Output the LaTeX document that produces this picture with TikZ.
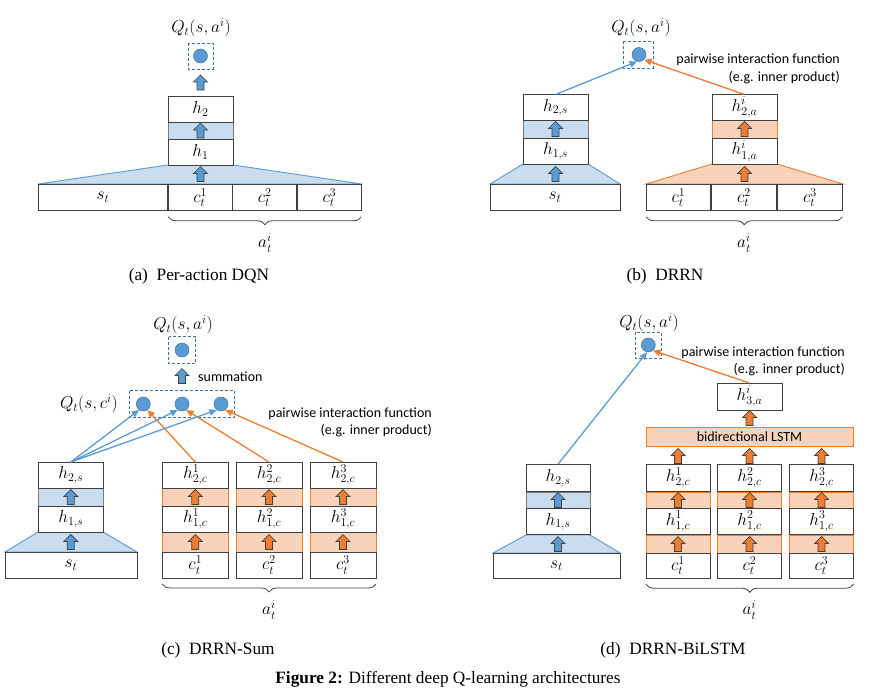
\documentclass[tikz,border=0pt]{standalone}
\usepackage{fontspec}
\setmainfont{Liberation Serif}
\newfontfamily\calfont{Carlito}
\usetikzlibrary{arrows.meta, decorations.pathreplacing}

\definecolor{qblue}{HTML}{5B9BD5}
\definecolor{qblueline}{HTML}{41719C}
\definecolor{lblue}{HTML}{C9DCF0}
\definecolor{qorange}{HTML}{ED7D31}
\definecolor{lorange}{HTML}{F8D3BA}
\definecolor{boxgray}{HTML}{404040}

\tikzset{
  cell/.style={draw=boxgray, line width=0.9pt, fill=white, inner sep=0pt, outer sep=0pt,
    minimum height=26pt, font=\fontsize{17}{20}\selectfont},
  mlabel/.style={inner sep=1pt, font=\fontsize{17}{20}\selectfont},
  note/.style={inner sep=1pt, font=\calfont\fontsize{14}{17}\selectfont},
  capt/.style={inner sep=1pt, font=\fontsize{17.3}{21}\selectfont},
  qboxline/.style={draw=qblueline, dashed, dash pattern=on 3pt off 2pt, line width=0.7pt},
  qdot/.style={circle, fill=qblue, draw=qblueline, line width=0.5pt, minimum size=14pt, inner sep=0pt},
  bandb/.style={fill=lblue, draw=boxgray!70, line width=0.7pt},
  bando/.style={fill=lorange, draw=qorange, line width=0.7pt},
  trapb/.style={fill=lblue, draw=qblue, line width=0.9pt},
  trapo/.style={fill=lorange, draw=qorange, line width=0.9pt},
  barr/.style={fill=qblue, draw=boxgray, line width=0.7pt},
  oarr/.style={fill=qorange, draw=boxgray, line width=0.7pt},
  bline/.style={draw=qblue, line width=1.3pt, -{Triangle[length=7.5pt,width=6.5pt]}},
  oline/.style={draw=qorange, line width=1.3pt, -{Triangle[length=7.5pt,width=6.5pt]}},
  brc/.style={draw=boxgray, line width=0.8pt, decorate,
    decoration={brace, mirror, amplitude=8pt}},
  uparr/.pic={
    \draw[pic actions] (0,-7.5) -- (7,-0.5) -- (3.5,-0.5) -- (3.5,7.5)
      -- (-3.5,7.5) -- (-3.5,-0.5) -- (-7,-0.5) -- cycle;
  }
}

\begin{document}
\begin{tikzpicture}[x=1pt, y=-1pt]
  \useasboundingbox (0,0) rectangle (873,695);

  % (a) Per-action DQN
  \filldraw[trapb] (168,165) -- (233,165) -- (362,184) -- (38,184) -- cycle;
  \filldraw[bandb] (168,122) rectangle (233,139);
  \node[cell, minimum width=65pt] (a-h2) at (200.5,109) {$h_2$};
  \node[cell, minimum width=65pt] (a-h1) at (200.5,152) {$h_1$};
  \node[cell, minimum width=129pt, minimum height=26.5pt] (a-s) at (103,197.5) {$s_t$};
  \foreach \n/\cx in {1/200.2, 2/264.7, 3/329.5}
    \node[cell, minimum width=63.8pt, minimum height=26.5pt] (a-c\n) at (\cx,197.5) {$c_t^{\n}$};
  \pic[barr] at (200.5,130.5) {uparr};
  \pic[barr] at (200.5,174) {uparr};
  \pic[barr] at (200.5,82.5) {uparr};
  \node[qdot] (a-qc) at (200.5,56) {};
  \draw[qboxline] ([shift={(-12.5,-13)}]a-qc.center) rectangle ([shift={(12.5,13)}]a-qc.center);
  \node[mlabel] (a-ql) at (201,28) {$Q_t(s,a^i)$};
  \draw[brc] ([yshift=-6pt]a-c1.south west) -- ([yshift=-6pt]a-c3.south east);
  \node[mlabel] (a-a) at (265,243) {$a_t^i$};
  \node[capt] (a-cap) at (199,276) {(a)\enspace Per-action DQN};

  % (b) DRRN
  \filldraw[trapb] (523,164) -- (588,164) -- (620,184) -- (490,184) -- cycle;
  \filldraw[trapo] (712,164) -- (777,164) -- (843,184) -- (646,184) -- cycle;
  \filldraw[bandb] (523,120) rectangle (588,138);
  \filldraw[bando] (712,120) rectangle (777,138);
  \node[cell, minimum width=65pt] (b-h2s) at (555.5,107.5) {$h_{2,s}$};
  \node[cell, minimum width=65pt] (b-h1s) at (555.5,151) {$h_{1,s}$};
  \node[cell, minimum width=130pt, minimum height=26.5pt] (b-s) at (555,197.5) {$s_t$};
  \node[cell, minimum width=65pt] (b-h2a) at (744.5,107.5) {$h^i_{2,a}$};
  \node[cell, minimum width=65pt] (b-h1a) at (744.5,151) {$h^i_{1,a}$};
  \foreach \n/\cx in {1/678.5, 2/744, 3/810}
    \node[cell, minimum width=64.8pt, minimum height=26.5pt] (b-c\n) at (\cx,197.5) {$c_t^{\n}$};
  \pic[barr] at (555.5,129) {uparr};
  \pic[barr] at (555.5,174) {uparr};
  \pic[oarr] at (744.5,129) {uparr};
  \pic[oarr] at (744.5,174) {uparr};
  \node[qdot] (b-qc) at (639,54.5) {};
  \draw[qboxline] ([shift={(-16,-13)}]b-qc.center) rectangle ([shift={(14,13.5)}]b-qc.center);
  \node[mlabel] (b-ql) at (641,28) {$Q_t(s,a^i)$};
  \draw[bline] (b-h2s.north) -- (b-qc.-105);
  \draw[oline] (b-h2a.north) -- (b-qc.-45);
  \node[note, anchor=east] (b-n1) at (841,60) {pairwise interaction function};
  \node[note, anchor=east] (b-n2) at (841,78) {(e.g. inner product)};
  \draw[brc] ([yshift=-6pt]b-c1.south west) -- ([yshift=-6pt]b-c3.south east);
  \node[mlabel] (b-a) at (744,243) {$a_t^i$};
  \node[capt] (b-cap) at (665,276) {(b)\enspace DRRN};

  % (c) DRRN-Sum
  \filldraw[trapb] (38,532) -- (103,532) -- (137,552) -- (5,552) -- cycle;
  \filldraw[bandb] (38,488) rectangle (103,506);
  \node[cell, minimum width=65pt] (c-h2s) at (70.8,475) {$h_{2,s}$};
  \node[cell, minimum width=65pt] (c-h1s) at (70.8,519) {$h_{1,s}$};
  \node[cell, minimum width=132pt] (c-s) at (71,565) {$s_t$};
  \pic[barr] at (70.8,497) {uparr};
  \pic[barr] at (70.8,542) {uparr};
  \foreach \n/\cx in {1/195.3, 2/269, 3/343} {
    \filldraw[bando] ({\cx-33},488) rectangle ({\cx+33},506);
    \filldraw[bando] ({\cx-33},532) rectangle ({\cx+33},552);
    \node[cell, minimum width=66pt] (c-h2\n) at (\cx,475) {$h^{\n}_{2,c}$};
    \node[cell, minimum width=66pt] (c-h1\n) at (\cx,519) {$h^{\n}_{1,c}$};
    \node[cell, minimum width=66pt] (c-c\n) at (\cx,565) {$c_t^{\n}$};
    \pic[oarr] at (\cx,497) {uparr};
    \pic[oarr] at (\cx,542) {uparr};
  }
  \foreach \n/\cx in {1/143.3, 2/182, 3/221}
    \node[qdot] (c-q\n) at (\cx,404) {};
  \draw[qboxline] ([shift={(-14,-13.3)}]c-q1.center) rectangle ([shift={(13.3,13.3)}]c-q3.center);
  \node[mlabel, anchor=east] (c-qsl) at (119,404) {$Q_t(s,c^i)$};
  \pic[barr] at (182,376) {uparr};
  \node[note, anchor=west] (c-sum) at (197,377) {summation};
  \node[qdot] (c-qc) at (182,350) {};
  \draw[qboxline] ([shift={(-13.5,-13.3)}]c-qc.center) rectangle ([shift={(13.5,13.3)}]c-qc.center);
  \node[mlabel] (c-ql) at (183,325) {$Q_t(s,a^i)$};
  \foreach \n in {1,2,3} {
    \draw[bline] (c-h2s.north) -- (c-q\n.-125);
    \draw[oline] (c-h2\n.north) -- (c-q\n.-55);
  }
  \node[note, anchor=east] (c-n1) at (433,414) {pairwise interaction function};
  \node[note, anchor=east] (c-n2) at (433,431) {(e.g. inner product)};
  \draw[brc] ([yshift=-6pt]c-c1.south west) -- ([yshift=-6pt]c-c3.south east);
  \node[mlabel] (c-a) at (269,610) {$a_t^i$};
  \node[capt] (c-cap) at (218,650) {(c)\enspace DRRN-Sum};

  % (d) DRRN-BiLSTM
  \filldraw[trapb] (526,535) -- (590,535) -- (620,553) -- (493,553) -- cycle;
  \filldraw[bandb] (526,492) rectangle (590,508);
  \node[cell, minimum width=64pt, minimum height=27.5pt] (d-h2s) at (558,478) {$h_{2,s}$};
  \node[cell, minimum width=64pt, minimum height=26.7pt] (d-h1s) at (558,521.5) {$h_{1,s}$};
  \node[cell, minimum width=127pt, minimum height=25pt] (d-s) at (556.5,565.7) {$s_t$};
  \pic[barr] at (558,500) {uparr};
  \pic[barr] at (558,544) {uparr};
  \foreach \n/\cx in {1/678, 2/749.5, 3/821.5} {
    \filldraw[bando] ({\cx-32},492) rectangle ({\cx+32},508);
    \filldraw[bando] ({\cx-32},535) rectangle ({\cx+32},553);
    \node[cell, minimum width=64pt, minimum height=27.5pt] (d-h2\n) at (\cx,478) {$h^{\n}_{2,c}$};
    \node[cell, minimum width=64pt, minimum height=26.7pt] (d-h1\n) at (\cx,521.5) {$h^{\n}_{1,c}$};
    \node[cell, minimum width=64pt, minimum height=25pt] (d-c\n) at (\cx,565.7) {$c_t^{\n}$};
    \pic[oarr] at (\cx,500) {uparr};
    \pic[oarr] at (\cx,544) {uparr};
    \pic[oarr] at (\cx,456) {uparr};
  }
  \node[draw=qorange, fill=lorange, line width=0.9pt, minimum width=207pt, minimum height=19.5pt,
    inner sep=0pt, note] (d-lstm) at (749.5,437) {bidirectional LSTM};
  \pic[oarr] at (749.5,418) {uparr};
  \node[cell, minimum width=65pt, minimum height=27pt] (d-h3a) at (749.5,396.5) {$h^i_{3,a}$};
  \node[qdot] (d-qc) at (648.3,345) {};
  \draw[qboxline] ([shift={(-13.3,-13)}]d-qc.center) rectangle ([shift={(13.4,13)}]d-qc.center);
  \node[mlabel] (d-ql) at (649,323) {$Q_t(s,a^i)$};
  \draw[bline] (d-h2s.north) -- (d-qc.-100);
  \draw[oline] (d-h3a.north) -- (d-qc.-50);
  \node[note, anchor=east] (d-n1) at (846,353) {pairwise interaction function};
  \node[note, anchor=east] (d-n2) at (846,370) {(e.g. inner product)};
  \draw[brc] ([yshift=-6pt]d-c1.south west) -- ([yshift=-6pt]d-c3.south east);
  \node[mlabel] (d-a) at (749.5,610) {$a_t^i$};
  \node[capt] (d-cap) at (673,650) {(d)\enspace DRRN-BiLSTM};

  \node[capt] (fig-cap) at (448,679) {\textbf{Figure 2:} Different deep Q-learning architectures};
\end{tikzpicture}
\end{document}
